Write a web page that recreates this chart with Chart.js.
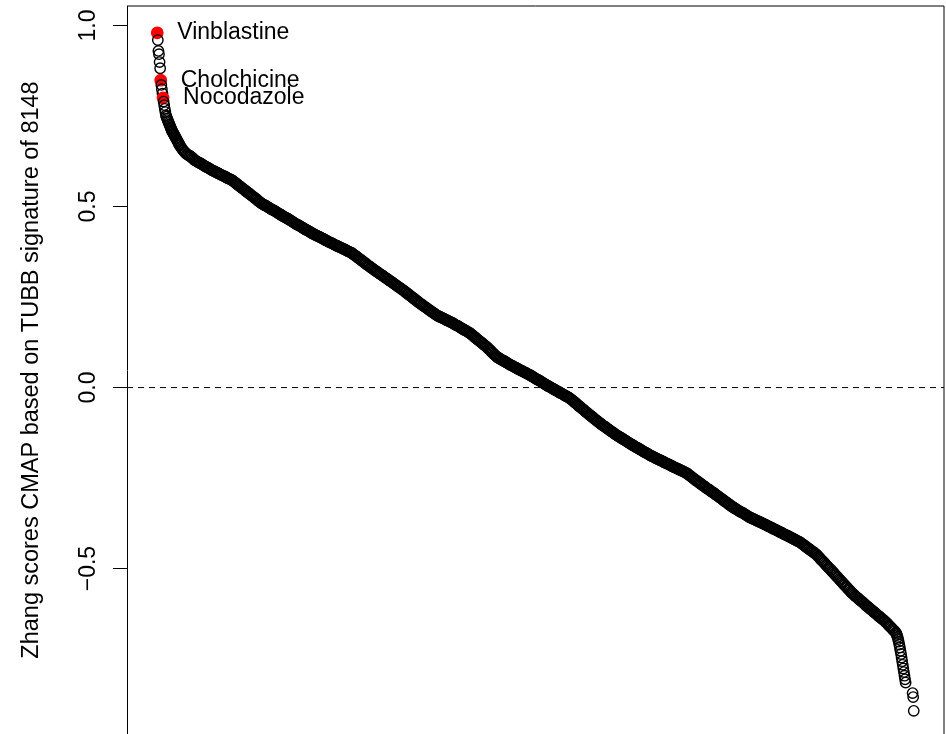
<!DOCTYPE html>
<html>
<head>
<meta charset="utf-8">
<script src="https://cdn.jsdelivr.net/npm/chart.js@4.4.1/dist/chart.umd.min.js"></script>
<style>
  html, body { margin: 0; padding: 0; background: #fff; overflow: hidden; }
  canvas { display: block; }
</style>
</head>
<body>
<canvas id="chart" width="946" height="734"></canvas>
<script>
// Compounds ranked by Zhang score (rank 1 = highest); sampled ranks and their scores.
const ranks = [
  1,2,3,4,5,6,7,8,9,10,11,12,13,14,15,
  16,17,18,19,20,21,22,23,24,25,26,27,28,29,30,31,32,33,34,35,36,37,38,39,40,
  42,44,46,48,50,52,54,56,58,
  60,62,64,66,68,70,72,74,76,78,
  80,82,84,86,88,90,92,94,96,98,
  100,102,104,106,108,110,112,114,116,118,
  120,122,124,126,128,130,132,134,136,138,
  140,142,144,146,148,150,152,154,156,158,
  160,162,164,166,168,170,172,174,176,178,
  180,182,184,186,188,190,192,194,196,198,
  200,202,204,206,208,210,212,214,216,218,
  220,222,224,226,228,230,232,234,236,238,
  240,242,244,246,248,250,252,254,256,258,
  260,262,264,266,268,270,272,274,276,278,
  280,282,284,286,288,290,292,294,296,298,
  300,302,304,306,308,310,312,314,316,318,
  320,322,324,326,328,330,332,334,336,338,
  340,342,344,346,348,350,352,354,356,358,
  360,362,364,366,368,370,372,374,376,378,
  380,382,384,386,388,390,392,394,396,398,
  400,402,404,406,408,410,412,414,416,418,
  420,422,424,426,428,430,432,434,436,438,
  440,442,444,446,448,450,452,454,456,458,
  460,462,464,466,468,470,472,474,476,478,
  480,482,484,486,488,490,492,494,496,498,
  500,502,504,506,508,510,512,514,516,518,
  520,522,524,526,528,530,532,534,536,538,
  540,542,544,546,548,550,552,554,556,558,
  560,562,564,566,568,570,572,574,576,578,
  580,582,584,586,588,590,592,594,596,598,
  600,602,604,606,608,610,612,614,616,618,
  620,622,624,626,628,630,632,634,636,638,
  640,642,644,646,648,650,652,654,656,658,
  660,662,664,666,668,670,672,674,676,678,
  680,682,684,686,688,690,692,694,696,698,
  700,702,704,706,708,710,712,714,716,718,
  720,722,724,726,728,730,732,734,736,738,
  740,742,744,746,748,750,752,754,756,758,
  760,762,764,766,768,770,772,774,776,778,
  780,782,784,786,788,790,792,794,796,798,
  800,802,804,806,808,810,812,814,816,818,
  820,822,824,826,828,830,832,834,836,838,
  840,842,844,846,848,850,852,854,856,858,
  860,862,864,866,868,870,872,874,876,878,
  880,882,884,886,888,890,892,894,896,898,
  900,902,904,906,908,910,912,914,916,918,
  920,922,924,926,928,930,932,934,936,938,
  940,942,944,946,948,950,952,954,956,958,
  960,962,964,966,968,970,972,974,976,978,
  980,982,984,986,988,990,992,994,996,998,
  1000,1002,1004,1006,1008,1010,1012,1014,1016,1018,
  1020,1022,1024,1026,1028,1030,1032,1034,1036,1038,
  1040,1042,1044,1046,1048,1050,1052,1054,1056,1058,
  1060,1062,1064,1066,1068,1070,1072,1074,1076,1078,
  1080,1082,1084,1086,1088,1090,1092,1094,1096,1098,
  1100,1102,1104,1106,1108,1110,1112,1114,1116,1118,
  1120,1122,1124,1126,1128,1130,1132,1134,1136,1138,
  1140,1142,1144,1146,1148,1150,1152,1154,1156,1158,
  1160,1162,1164,1166,1168,1170,1172,1174,1176,1178,
  1180,1182,1184,1186,1188,1190,1192,1194,1196,1198,
  1200,1202,1204,1206,1208,1210,1212,1214,1216,1218,
  1220,1222,1224,1226,1228,1230,1232,1234,1236,1238,
  1240,1242,1244,1246,1248,1250,1252,1254,1256,1258,
  1260,
  1262,1264,1266,1268,1270,1272,1274,1276,1278,
  1279,1280,1281,1282,1283,1284,1285,1286,1287,1288,1289,1290,1291,1292,1293,1294,1295,
  1307,1308,1309
];

const scores = [
  0.980,0.960,0.930,0.921,0.899,0.882,0.849,0.836,0.824,0.812,0.800,0.790,0.780,0.770,0.761,
  0.752,0.748,0.743,0.739,0.735,0.731,0.727,0.723,0.719,0.715,0.711,0.708,0.705,0.702,0.699,0.696,0.693,0.690,0.687,0.684,0.681,0.678,0.675,0.672,0.669,
  0.664,0.659,0.655,0.651,0.648,0.645,0.643,0.641,0.639,
  0.637,0.634,0.631,0.628,0.626,0.624,0.622,0.621,0.619,0.617,
  0.615,0.613,0.611,0.609,0.608,0.606,0.604,0.602,0.600,0.599,
  0.597,0.595,0.594,0.592,0.591,0.589,0.587,0.586,0.584,0.583,
  0.581,0.579,0.578,0.576,0.575,0.573,0.571,0.568,0.566,0.563,
  0.561,0.558,0.556,0.553,0.551,0.548,0.546,0.543,0.541,0.538,
  0.536,0.533,0.531,0.528,0.526,0.523,0.521,0.518,0.515,0.513,
  0.510,0.508,0.506,0.504,0.503,0.501,0.499,0.497,0.495,0.493,
  0.491,0.490,0.488,0.486,0.484,0.482,0.480,0.478,0.476,0.474,
  0.472,0.470,0.469,0.467,0.465,0.463,0.461,0.459,0.457,0.455,
  0.453,0.451,0.449,0.448,0.446,0.444,0.442,0.440,0.438,0.436,
  0.435,0.433,0.431,0.429,0.427,0.425,0.424,0.422,0.420,0.419,
  0.417,0.416,0.414,0.412,0.411,0.409,0.407,0.406,0.404,0.402,
  0.401,0.399,0.398,0.396,0.394,0.393,0.391,0.390,0.388,0.387,
  0.385,0.384,0.382,0.381,0.379,0.377,0.376,0.374,0.373,0.371,
  0.368,0.366,0.364,0.361,0.359,0.356,0.354,0.352,0.349,0.347,
  0.344,0.342,0.339,0.337,0.335,0.332,0.330,0.328,0.325,0.323,
  0.321,0.319,0.316,0.314,0.312,0.310,0.308,0.305,0.303,0.301,
  0.299,0.296,0.294,0.292,0.290,0.287,0.285,0.283,0.280,0.278,
  0.276,0.274,0.271,0.269,0.267,0.264,0.262,0.259,0.257,0.254,
  0.252,0.249,0.247,0.244,0.242,0.239,0.237,0.234,0.232,0.230,
  0.227,0.225,0.223,0.221,0.218,0.216,0.214,0.211,0.209,0.207,
  0.205,0.202,0.200,0.198,0.197,0.195,0.194,0.192,0.191,0.189,
  0.187,0.186,0.184,0.183,0.181,0.180,0.178,0.176,0.174,0.172,
  0.171,0.169,0.167,0.165,0.163,0.161,0.159,0.158,0.156,0.154,
  0.152,0.150,0.147,0.145,0.142,0.139,0.137,0.134,0.131,0.129,
  0.126,0.124,0.121,0.118,0.116,0.113,0.110,0.107,0.104,0.101,
  0.097,0.094,0.091,0.088,0.085,0.083,0.081,0.079,0.077,0.075,
  0.074,0.072,0.070,0.068,0.066,0.064,0.062,0.061,0.059,0.057,
  0.056,0.054,0.052,0.051,0.049,0.047,0.046,0.044,0.042,0.041,
  0.039,0.037,0.036,0.034,0.032,0.030,0.028,0.026,0.024,0.022,
  0.021,0.019,0.017,0.015,0.013,0.011,0.009,0.007,0.005,0.003,
  0.002,0.000,-0.002,-0.004,-0.006,-0.007,-0.009,-0.011,-0.013,-0.015,
  -0.016,-0.018,-0.020,-0.022,-0.024,-0.025,-0.027,-0.029,-0.032,-0.034,
  -0.037,-0.040,-0.042,-0.045,-0.048,-0.051,-0.053,-0.056,-0.059,-0.061,
  -0.064,-0.067,-0.069,-0.072,-0.075,-0.077,-0.080,-0.082,-0.085,-0.088,
  -0.090,-0.093,-0.095,-0.098,-0.100,-0.103,-0.105,-0.107,-0.109,-0.112,
  -0.114,-0.116,-0.119,-0.121,-0.123,-0.125,-0.128,-0.130,-0.132,-0.134,
  -0.136,-0.138,-0.140,-0.142,-0.144,-0.146,-0.148,-0.150,-0.152,-0.154,
  -0.156,-0.158,-0.160,-0.162,-0.164,-0.166,-0.167,-0.169,-0.171,-0.173,
  -0.175,-0.177,-0.179,-0.180,-0.182,-0.184,-0.186,-0.188,-0.189,-0.191,
  -0.192,-0.194,-0.196,-0.197,-0.199,-0.200,-0.202,-0.203,-0.205,-0.207,
  -0.208,-0.210,-0.211,-0.213,-0.214,-0.216,-0.218,-0.219,-0.221,-0.222,
  -0.224,-0.225,-0.227,-0.228,-0.230,-0.231,-0.233,-0.235,-0.236,-0.238,
  -0.241,-0.243,-0.246,-0.248,-0.251,-0.253,-0.256,-0.258,-0.260,-0.263,
  -0.265,-0.267,-0.270,-0.272,-0.274,-0.277,-0.279,-0.281,-0.283,-0.286,
  -0.288,-0.290,-0.292,-0.295,-0.297,-0.299,-0.302,-0.304,-0.306,-0.309,
  -0.311,-0.314,-0.316,-0.318,-0.321,-0.323,-0.325,-0.328,-0.330,-0.332,
  -0.334,-0.336,-0.338,-0.340,-0.342,-0.344,-0.345,-0.347,-0.349,-0.351,
  -0.353,-0.355,-0.357,-0.359,-0.360,-0.362,-0.363,-0.365,-0.366,-0.368,
  -0.369,-0.371,-0.372,-0.374,-0.375,-0.377,-0.378,-0.380,-0.382,-0.383,
  -0.385,-0.386,-0.388,-0.390,-0.391,-0.393,-0.394,-0.396,-0.398,-0.399,
  -0.401,-0.402,-0.404,-0.406,-0.407,-0.409,-0.410,-0.412,-0.414,-0.415,
  -0.417,-0.419,-0.420,-0.422,-0.424,-0.425,-0.427,-0.429,-0.432,-0.434,
  -0.436,-0.439,-0.441,-0.444,-0.446,-0.448,-0.451,-0.453,-0.455,-0.458,
  -0.460,-0.463,-0.467,-0.470,-0.474,-0.477,-0.480,-0.484,-0.487,-0.491,
  -0.494,-0.498,-0.501,-0.504,-0.508,-0.511,-0.515,-0.518,-0.522,-0.525,
  -0.529,-0.532,-0.536,-0.539,-0.543,-0.546,-0.550,-0.553,-0.557,-0.560,
  -0.564,-0.567,-0.570,-0.573,-0.576,-0.579,-0.581,-0.584,-0.587,-0.590,
  -0.592,-0.595,-0.598,-0.601,-0.604,-0.606,-0.609,-0.612,-0.614,-0.617,
  -0.620,-0.622,-0.625,-0.628,-0.631,-0.633,-0.636,-0.639,-0.641,-0.644,
  -0.647,
  -0.650,-0.653,-0.657,-0.660,-0.663,-0.667,-0.670,-0.673,-0.677,
  -0.680,-0.684,-0.689,-0.695,-0.702,-0.710,-0.718,-0.727,-0.736,-0.746,-0.756,-0.766,-0.776,-0.786,-0.796,-0.806,-0.815,
  -0.844,-0.855,-0.893
];

// Tubulin-targeting compounds marked in red, by rank
const highlightNames = ['Vinblastine', 'Cholchicine', 'Nocodazole'];
const highlightRanks = [1, 7, 11];

const rankCount = 1309;
const yTickValues = [-0.5, 0, 0.5, 1.0];
const yTickLabels = ['\u22120.5', '0.0', '0.5', '1.0'];
const yTitle = 'Zhang scores CMAP based on TUBB signature of 8148';

const FONT = '"Liberation Sans", Arial, Helvetica, sans-serif';
Chart.defaults.font.family = FONT;

// x range: ranks padded by 4% each side
const xPad = 0.04 * (rankCount - 1);
const xLo = 1 - xPad, xHi = rankCount + xPad;

const points = ranks.map((r, i) => ({ x: r, y: scores[i] }));
const isHit = ranks.map(r => highlightRanks.includes(r));

const hitLabels = {
  id: 'hitLabels',
  afterDatasetsDraw(chart) {
    const meta = chart.getDatasetMeta(1);
    const ctx = chart.ctx;
    ctx.save();
    ctx.font = '23px ' + FONT;
    ctx.fillStyle = '#000';
    ctx.textAlign = 'left';
    ctx.textBaseline = 'middle';
    highlightRanks.forEach((r, k) => {
      const el = meta.data[ranks.indexOf(r)];
      ctx.fillText(highlightNames[k], el.x + 20, el.y);
    });
    ctx.restore();
  }
};

// top and right sides of the plot box
const frame = {
  id: 'frame',
  afterDraw(chart) {
    const { left, top, right, bottom } = chart.chartArea;
    const ctx = chart.ctx;
    ctx.save();
    ctx.strokeStyle = '#000';
    ctx.lineWidth = 1;
    ctx.beginPath();
    ctx.moveTo(left, top);
    ctx.lineTo(right, top);
    ctx.lineTo(right, bottom);
    ctx.stroke();
    ctx.restore();
  }
};

new Chart(document.getElementById('chart'), {
  type: 'scatter',
  data: {
    datasets: [
      {
        type: 'line',
        data: [{ x: xLo, y: 0 }, { x: xHi, y: 0 }],
        borderColor: '#000',
        borderWidth: 1,
        borderDash: [6, 5],
        pointRadius: 0,
        fill: false
      },
      {
        data: points,
        pointStyle: 'circle',
        pointRadius: isHit.map(h => h ? 5.7 : 5.2),
        pointBorderWidth: 1.4,
        pointBackgroundColor: isHit.map(h => h ? '#ff0000' : 'rgba(0,0,0,0)'),
        pointBorderColor: isHit.map(h => h ? '#ff0000' : '#000'),
        showLine: false
      }
    ]
  },
  options: {
    responsive: false,
    animation: false,
    events: [],
    layout: { autoPadding: false, padding: { left: 0, top: 6, right: 2, bottom: 0 } },
    plugins: { legend: { display: false }, tooltip: { enabled: false } },
    scales: {
      x: { type: 'linear', min: xLo, max: xHi, display: false },
      y: {
        type: 'linear',
        min: -0.957,
        max: 1.054,
        afterBuildTicks: s => { s.ticks = yTickValues.map(v => ({ value: v })); },
        afterFit: s => { s.width = 127; s.paddingTop = 0; s.paddingBottom = 0; },
        grid: {
          drawOnChartArea: false,
          drawTicks: true,
          tickLength: 14,
          color: '#000',
          lineWidth: 1
        },
        border: { display: true, color: '#000', width: 1 },
        ticks: {
          minRotation: 90,
          maxRotation: 90,
          crossAlign: 'center',
          padding: 2,
          color: '#000',
          font: { size: 23 },
          callback: v => yTickLabels[yTickValues.indexOf(v)]
        },
        title: {
          display: true,
          text: yTitle,
          color: '#000',
          font: { size: 23.5 },
          padding: { top: 17, bottom: 0 }
        }
      }
    }
  },
  plugins: [hitLabels, frame]
});
</script>
</body>
</html>
